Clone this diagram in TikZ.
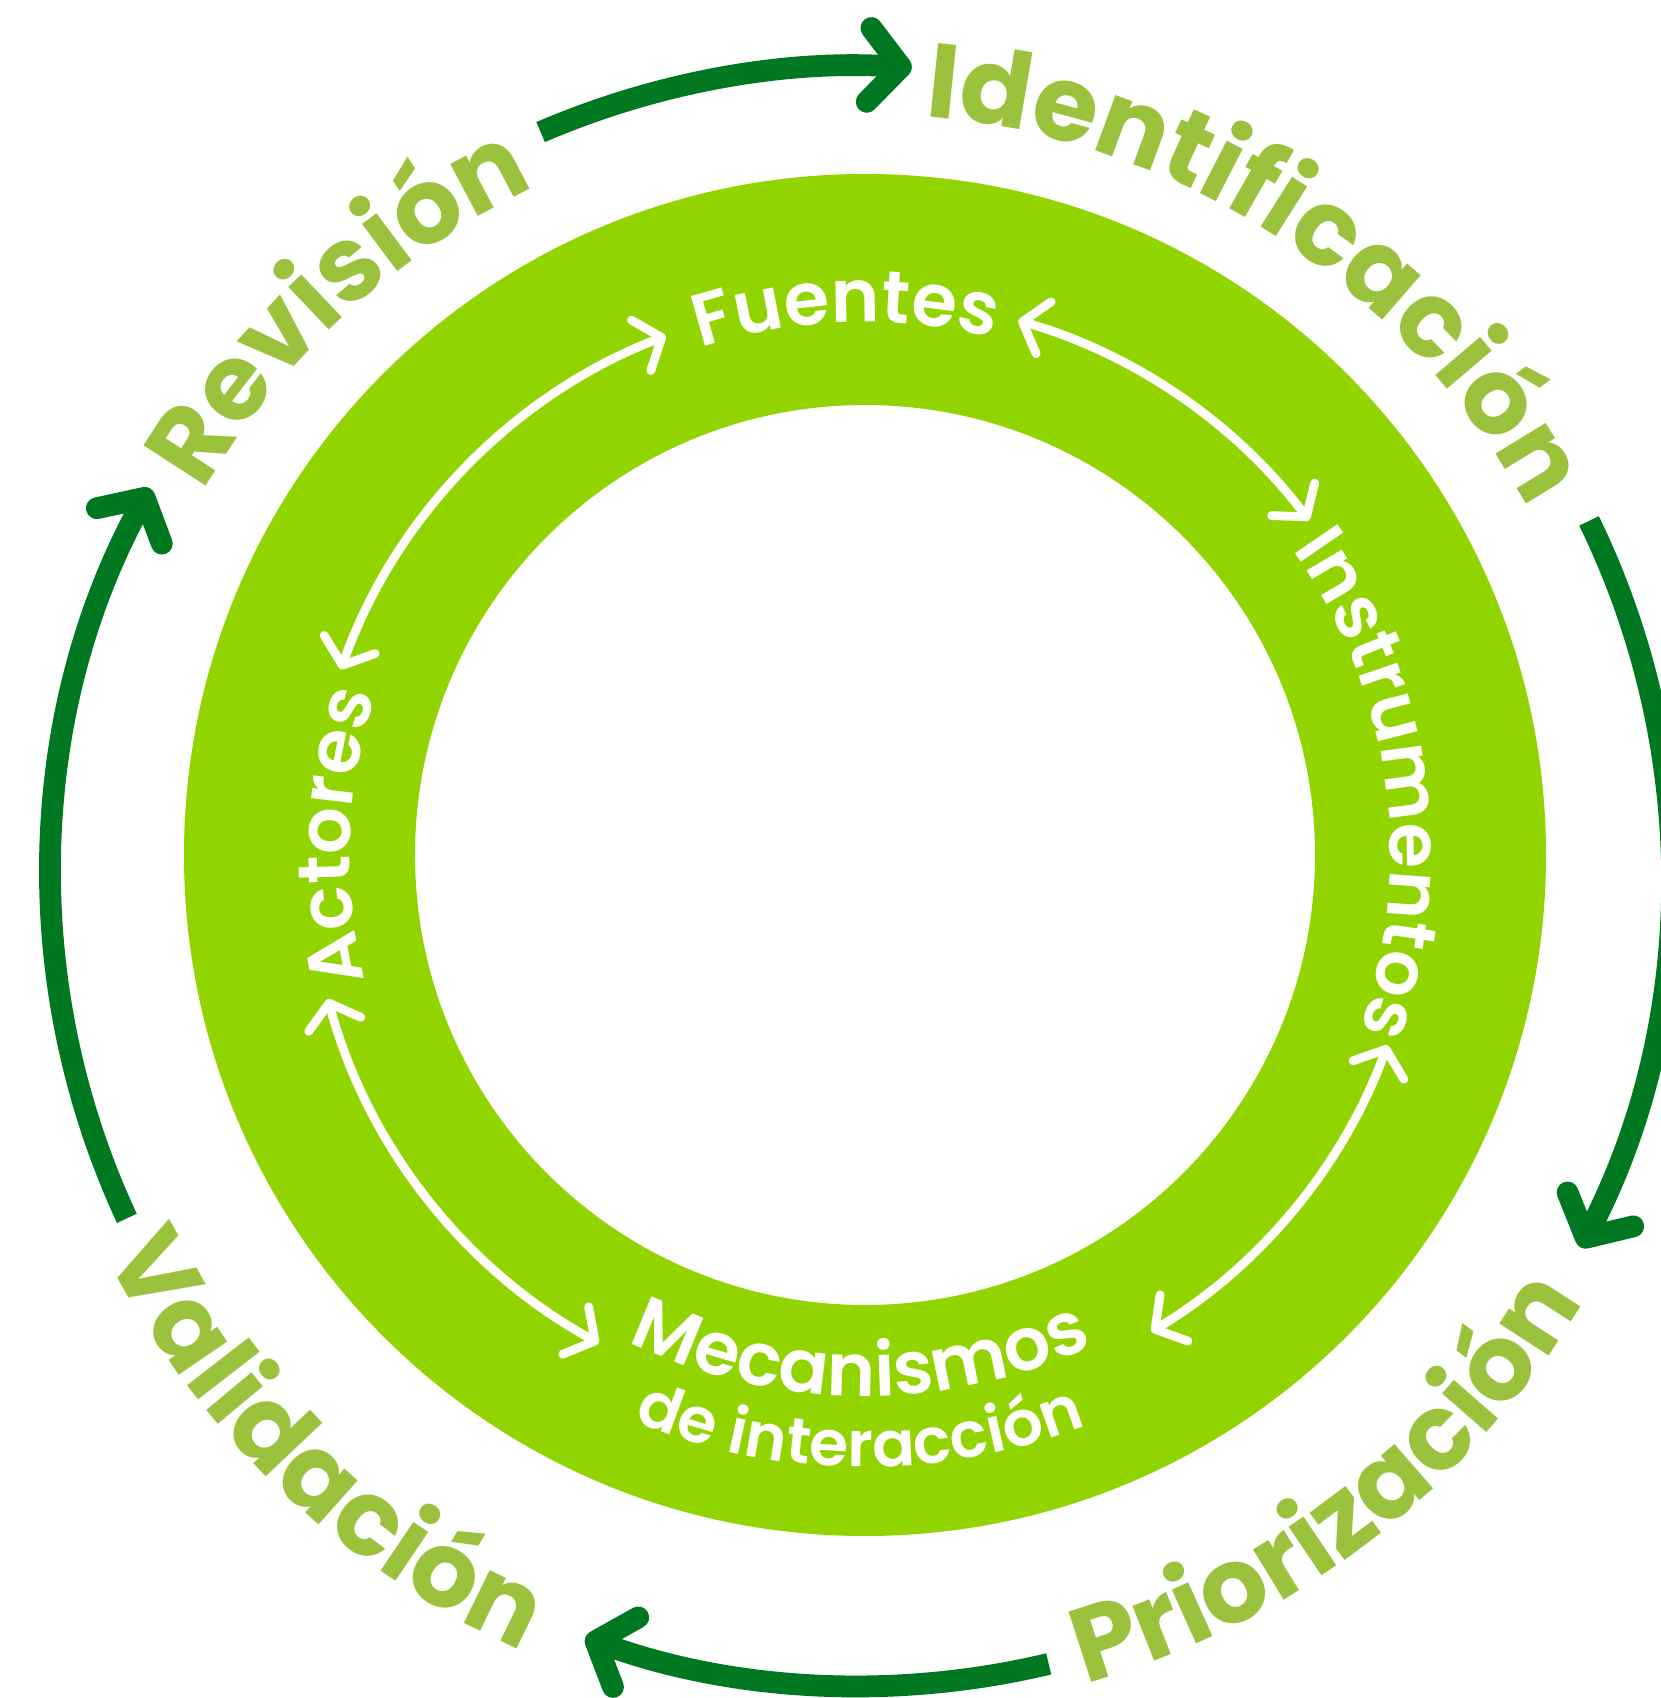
\documentclass[tikz,border=0pt]{standalone}
\usepackage{fontspec}
\setmainfont{Poppins}[BoldFont={* SemiBold}]
\newfontfamily\stepfont{Poppins}
\usetikzlibrary{arrows.meta,decorations.text}

\definecolor{ringgreen}{RGB}{146,212,0}
\definecolor{labelgreen}{RGB}{155,194,60}
\definecolor{cyclegreen}{RGB}{0,120,33}

\tikzset{
  cyclearrow/.style={cyclegreen, line width=6.2pt,
    -{Straight Barb[length=3.2mm,width=7.4mm,round]}},
  ringarrow/.style={white, line width=2.5pt,
    {Straight Barb[length=2.2mm,width=5.4mm,round]}-{Straight Barb[length=2.2mm,width=5.4mm,round]}},
  outerlabel/.style={decorate, decoration={text along path, text align=center,
    text color=labelgreen, text={|\stepfont\fontsize{30}{32}\selectfont\bfseries|#1}}},
  ringlabel/.style={decorate, decoration={text along path, text align=center,
    text color=white, text={|\fontsize{21}{23}\selectfont\bfseries|#1}}},
  smalllabel/.style={decorate, decoration={text along path, text align=center,
    text color=white, text={|\fontsize{18}{20}\selectfont\bfseries|#1}}}
}

\begin{document}
\begin{tikzpicture}
  \useasboundingbox (-8.65,-8.43) rectangle (7.96,8.55);
  \clip (-8.65,-8.43) rectangle (7.96,8.55);

  % ring
  \fill[ringgreen, even odd rule] (0,0) circle (6.81) (0,0) circle (4.50);

  % labels in the ring
  \path[ringlabel=Fuentes] (122:5.33) arc[start angle=122, end angle=62, radius=5.33];
  \path[ringlabel=Instrumentos] (53:5.25) arc[start angle=53, end angle=-37, radius=5.25];
  \path[ringlabel=Actores] (218:5.15) arc[start angle=218, end angle=138, radius=5.15];
  \path[ringlabel=Mecanismos] (-140:5.41) arc[start angle=-140, end angle=-41, radius=5.41];
  \path[smalllabel=de interacción] (-140:6.12) arc[start angle=-140, end angle=-41, radius=6.12];

  % arrows in the ring
  \coordinate (fa1) at (111:5.56);
  \coordinate (fi1) at (74:5.56);
  \coordinate (im1) at (-20:5.56);
  \coordinate (am1) at (195:5.56);
  \draw[ringarrow] (fa1) arc[start angle=111, end angle=160.5, radius=5.56];
  \draw[ringarrow] (fi1) arc[start angle=74, end angle=37, radius=5.56];
  \draw[ringarrow] (im1) arc[start angle=-20, end angle=-59, radius=5.56];
  \draw[ringarrow] (am1) arc[start angle=195, end angle=241.4, radius=5.56];

  \begin{scope}[shift={(-0.04,-0.21)}]
    % steps of the cycle
    \path[outerlabel=Identificación] (100:7.62) arc[start angle=100, end angle=14, radius=7.62];
    \path[outerlabel=Revisión] (175:7.62) arc[start angle=175, end angle=90, radius=7.62];
    \path[outerlabel=Priorización] (-97:8.38) arc[start angle=-97, end angle=-8, radius=8.38];
    \path[outerlabel=Validación] (-176:8.45) arc[start angle=-176, end angle=-91, radius=8.45];

    \coordinate (rev) at (113.3:8.1);
    \coordinate (ide) at (26:8.1);
    \coordinate (pri) at (-76.6:8.1);
    \coordinate (val) at (205:8.1);
    \draw[cyclearrow] (rev) arc[start angle=113.3, end angle=86.4, radius=8.1];
    \draw[cyclearrow] (ide) arc[start angle=26, end angle=-27.3, radius=8.1];
    \draw[cyclearrow] (pri) arc[start angle=-76.6, end angle=-109.9, radius=8.1];
    \draw[cyclearrow] (val) arc[start angle=205, end angle=151.4, radius=8.1];
  \end{scope}
\end{tikzpicture}
\end{document}
